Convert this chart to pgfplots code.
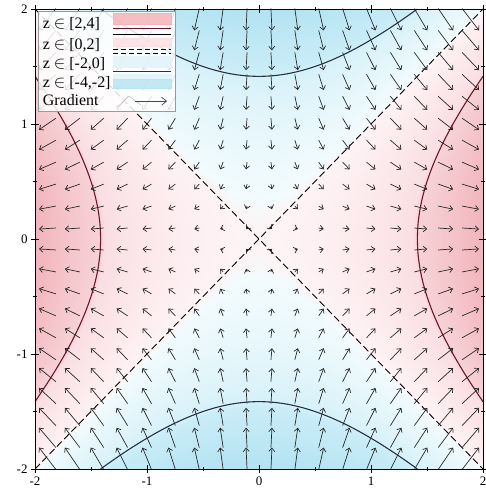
\documentclass[border=0pt]{standalone}
\usepackage{fontspec}
\setmainfont{Liberation Serif}
\usepackage{pgfplots}
\pgfplotsset{compat=1.18}
\usepackage{pgfplotstable}
\usetikzlibrary{arrows.meta}
\definecolor{cA}{RGB}{244,180,186}
\definecolor{cB}{RGB}{251,224,227}
\definecolor{cC}{RGB}{224,244,250}
\definecolor{cD}{RGB}{185,229,243}
\definecolor{ctwo}{RGB}{105,25,40}
\definecolor{cmtwo}{RGB}{35,50,70}
\definecolor{arrowc}{RGB}{40,40,40}

\pgfplotstableread{
x y z
-2 -2 0
-1.75 -2 -0.9375
-1.5 -2 -1.75
-1.25 -2 -2.4375
-1 -2 -3
-0.75 -2 -3.4375
-0.5 -2 -3.75
-0.25 -2 -3.9375
0 -2 -4
0.25 -2 -3.9375
0.5 -2 -3.75
0.75 -2 -3.4375
1 -2 -3
1.25 -2 -2.4375
1.5 -2 -1.75
1.75 -2 -0.9375
2 -2 0
-2 -1.75 0.9375
-1.75 -1.75 0
-1.5 -1.75 -0.8125
-1.25 -1.75 -1.5
-1 -1.75 -2.0625
-0.75 -1.75 -2.5
-0.5 -1.75 -2.8125
-0.25 -1.75 -3
0 -1.75 -3.0625
0.25 -1.75 -3
0.5 -1.75 -2.8125
0.75 -1.75 -2.5
1 -1.75 -2.0625
1.25 -1.75 -1.5
1.5 -1.75 -0.8125
1.75 -1.75 0
2 -1.75 0.9375
-2 -1.5 1.75
-1.75 -1.5 0.8125
-1.5 -1.5 0
-1.25 -1.5 -0.6875
-1 -1.5 -1.25
-0.75 -1.5 -1.6875
-0.5 -1.5 -2
-0.25 -1.5 -2.1875
0 -1.5 -2.25
0.25 -1.5 -2.1875
0.5 -1.5 -2
0.75 -1.5 -1.6875
1 -1.5 -1.25
1.25 -1.5 -0.6875
1.5 -1.5 0
1.75 -1.5 0.8125
2 -1.5 1.75
-2 -1.25 2.4375
-1.75 -1.25 1.5
-1.5 -1.25 0.6875
-1.25 -1.25 0
-1 -1.25 -0.5625
-0.75 -1.25 -1
-0.5 -1.25 -1.3125
-0.25 -1.25 -1.5
0 -1.25 -1.5625
0.25 -1.25 -1.5
0.5 -1.25 -1.3125
0.75 -1.25 -1
1 -1.25 -0.5625
1.25 -1.25 0
1.5 -1.25 0.6875
1.75 -1.25 1.5
2 -1.25 2.4375
-2 -1 3
-1.75 -1 2.0625
-1.5 -1 1.25
-1.25 -1 0.5625
-1 -1 0
-0.75 -1 -0.4375
-0.5 -1 -0.75
-0.25 -1 -0.9375
0 -1 -1
0.25 -1 -0.9375
0.5 -1 -0.75
0.75 -1 -0.4375
1 -1 0
1.25 -1 0.5625
1.5 -1 1.25
1.75 -1 2.0625
2 -1 3
-2 -0.75 3.4375
-1.75 -0.75 2.5
-1.5 -0.75 1.6875
-1.25 -0.75 1
-1 -0.75 0.4375
-0.75 -0.75 0
-0.5 -0.75 -0.3125
-0.25 -0.75 -0.5
0 -0.75 -0.5625
0.25 -0.75 -0.5
0.5 -0.75 -0.3125
0.75 -0.75 0
1 -0.75 0.4375
1.25 -0.75 1
1.5 -0.75 1.6875
1.75 -0.75 2.5
2 -0.75 3.4375
-2 -0.5 3.75
-1.75 -0.5 2.8125
-1.5 -0.5 2
-1.25 -0.5 1.3125
-1 -0.5 0.75
-0.75 -0.5 0.3125
-0.5 -0.5 0
-0.25 -0.5 -0.1875
0 -0.5 -0.25
0.25 -0.5 -0.1875
0.5 -0.5 0
0.75 -0.5 0.3125
1 -0.5 0.75
1.25 -0.5 1.3125
1.5 -0.5 2
1.75 -0.5 2.8125
2 -0.5 3.75
-2 -0.25 3.9375
-1.75 -0.25 3
-1.5 -0.25 2.1875
-1.25 -0.25 1.5
-1 -0.25 0.9375
-0.75 -0.25 0.5
-0.5 -0.25 0.1875
-0.25 -0.25 0
0 -0.25 -0.0625
0.25 -0.25 0
0.5 -0.25 0.1875
0.75 -0.25 0.5
1 -0.25 0.9375
1.25 -0.25 1.5
1.5 -0.25 2.1875
1.75 -0.25 3
2 -0.25 3.9375
-2 0 4
-1.75 0 3.0625
-1.5 0 2.25
-1.25 0 1.5625
-1 0 1
-0.75 0 0.5625
-0.5 0 0.25
-0.25 0 0.0625
0 0 0
0.25 0 0.0625
0.5 0 0.25
0.75 0 0.5625
1 0 1
1.25 0 1.5625
1.5 0 2.25
1.75 0 3.0625
2 0 4
-2 0.25 3.9375
-1.75 0.25 3
-1.5 0.25 2.1875
-1.25 0.25 1.5
-1 0.25 0.9375
-0.75 0.25 0.5
-0.5 0.25 0.1875
-0.25 0.25 0
0 0.25 -0.0625
0.25 0.25 0
0.5 0.25 0.1875
0.75 0.25 0.5
1 0.25 0.9375
1.25 0.25 1.5
1.5 0.25 2.1875
1.75 0.25 3
2 0.25 3.9375
-2 0.5 3.75
-1.75 0.5 2.8125
-1.5 0.5 2
-1.25 0.5 1.3125
-1 0.5 0.75
-0.75 0.5 0.3125
-0.5 0.5 0
-0.25 0.5 -0.1875
0 0.5 -0.25
0.25 0.5 -0.1875
0.5 0.5 0
0.75 0.5 0.3125
1 0.5 0.75
1.25 0.5 1.3125
1.5 0.5 2
1.75 0.5 2.8125
2 0.5 3.75
-2 0.75 3.4375
-1.75 0.75 2.5
-1.5 0.75 1.6875
-1.25 0.75 1
-1 0.75 0.4375
-0.75 0.75 0
-0.5 0.75 -0.3125
-0.25 0.75 -0.5
0 0.75 -0.5625
0.25 0.75 -0.5
0.5 0.75 -0.3125
0.75 0.75 0
1 0.75 0.4375
1.25 0.75 1
1.5 0.75 1.6875
1.75 0.75 2.5
2 0.75 3.4375
-2 1 3
-1.75 1 2.0625
-1.5 1 1.25
-1.25 1 0.5625
-1 1 0
-0.75 1 -0.4375
-0.5 1 -0.75
-0.25 1 -0.9375
0 1 -1
0.25 1 -0.9375
0.5 1 -0.75
0.75 1 -0.4375
1 1 0
1.25 1 0.5625
1.5 1 1.25
1.75 1 2.0625
2 1 3
-2 1.25 2.4375
-1.75 1.25 1.5
-1.5 1.25 0.6875
-1.25 1.25 0
-1 1.25 -0.5625
-0.75 1.25 -1
-0.5 1.25 -1.3125
-0.25 1.25 -1.5
0 1.25 -1.5625
0.25 1.25 -1.5
0.5 1.25 -1.3125
0.75 1.25 -1
1 1.25 -0.5625
1.25 1.25 0
1.5 1.25 0.6875
1.75 1.25 1.5
2 1.25 2.4375
-2 1.5 1.75
-1.75 1.5 0.8125
-1.5 1.5 0
-1.25 1.5 -0.6875
-1 1.5 -1.25
-0.75 1.5 -1.6875
-0.5 1.5 -2
-0.25 1.5 -2.1875
0 1.5 -2.25
0.25 1.5 -2.1875
0.5 1.5 -2
0.75 1.5 -1.6875
1 1.5 -1.25
1.25 1.5 -0.6875
1.5 1.5 0
1.75 1.5 0.8125
2 1.5 1.75
-2 1.75 0.9375
-1.75 1.75 0
-1.5 1.75 -0.8125
-1.25 1.75 -1.5
-1 1.75 -2.0625
-0.75 1.75 -2.5
-0.5 1.75 -2.8125
-0.25 1.75 -3
0 1.75 -3.0625
0.25 1.75 -3
0.5 1.75 -2.8125
0.75 1.75 -2.5
1 1.75 -2.0625
1.25 1.75 -1.5
1.5 1.75 -0.8125
1.75 1.75 0
2 1.75 0.9375
-2 2 0
-1.75 2 -0.9375
-1.5 2 -1.75
-1.25 2 -2.4375
-1 2 -3
-0.75 2 -3.4375
-0.5 2 -3.75
-0.25 2 -3.9375
0 2 -4
0.25 2 -3.9375
0.5 2 -3.75
0.75 2 -3.4375
1 2 -3
1.25 2 -2.4375
1.5 2 -1.75
1.75 2 -0.9375
2 2 0
}\surface

\pgfplotstableread{
x y u v
-1.8133 2.0045 -0.1511 -0.1909
-1.6 2.0045 -0.1333 -0.1909
-1.3867 2.0045 -0.1156 -0.1909
-1.1733 2.0045 -0.0978 -0.1909
-0.96 2.0045 -0.08 -0.1909
-0.7467 2.0045 -0.0622 -0.1909
-0.5333 2.0045 -0.0444 -0.1909
-0.32 2.0045 -0.0267 -0.1909
-0.1067 2.0045 -0.0089 -0.1909
0.1067 2.0045 0.0089 -0.1909
0.32 2.0045 0.0267 -0.1909
0.5333 2.0045 0.0444 -0.1909
0.7467 2.0045 0.0622 -0.1909
0.96 2.0045 0.08 -0.1909
1.1733 2.0045 0.0978 -0.1909
1.3867 2.0045 0.1156 -0.1909
1.6 2.0045 0.1333 -0.1909
1.8133 2.0045 0.1511 -0.1909
-1.8133 1.8136 -0.1511 -0.1727
-1.6 1.8136 -0.1333 -0.1727
-1.3867 1.8136 -0.1156 -0.1727
-1.1733 1.8136 -0.0978 -0.1727
-0.96 1.8136 -0.08 -0.1727
-0.7467 1.8136 -0.0622 -0.1727
-0.5333 1.8136 -0.0444 -0.1727
-0.32 1.8136 -0.0267 -0.1727
-0.1067 1.8136 -0.0089 -0.1727
0.1067 1.8136 0.0089 -0.1727
0.32 1.8136 0.0267 -0.1727
0.5333 1.8136 0.0444 -0.1727
0.7467 1.8136 0.0622 -0.1727
0.96 1.8136 0.08 -0.1727
1.1733 1.8136 0.0978 -0.1727
1.3867 1.8136 0.1156 -0.1727
1.6 1.8136 0.1333 -0.1727
1.8133 1.8136 0.1511 -0.1727
-1.8133 1.6227 -0.1511 -0.1545
-1.6 1.6227 -0.1333 -0.1545
-1.3867 1.6227 -0.1156 -0.1545
-1.1733 1.6227 -0.0978 -0.1545
-0.96 1.6227 -0.08 -0.1545
-0.7467 1.6227 -0.0622 -0.1545
-0.5333 1.6227 -0.0444 -0.1545
-0.32 1.6227 -0.0267 -0.1545
-0.1067 1.6227 -0.0089 -0.1545
0.1067 1.6227 0.0089 -0.1545
0.32 1.6227 0.0267 -0.1545
0.5333 1.6227 0.0444 -0.1545
0.7467 1.6227 0.0622 -0.1545
0.96 1.6227 0.08 -0.1545
1.1733 1.6227 0.0978 -0.1545
1.3867 1.6227 0.1156 -0.1545
1.6 1.6227 0.1333 -0.1545
1.8133 1.6227 0.1511 -0.1545
-1.8133 1.4318 -0.1511 -0.1364
-1.6 1.4318 -0.1333 -0.1364
-1.3867 1.4318 -0.1156 -0.1364
-1.1733 1.4318 -0.0978 -0.1364
-0.96 1.4318 -0.08 -0.1364
-0.7467 1.4318 -0.0622 -0.1364
-0.5333 1.4318 -0.0444 -0.1364
-0.32 1.4318 -0.0267 -0.1364
-0.1067 1.4318 -0.0089 -0.1364
0.1067 1.4318 0.0089 -0.1364
0.32 1.4318 0.0267 -0.1364
0.5333 1.4318 0.0444 -0.1364
0.7467 1.4318 0.0622 -0.1364
0.96 1.4318 0.08 -0.1364
1.1733 1.4318 0.0978 -0.1364
1.3867 1.4318 0.1156 -0.1364
1.6 1.4318 0.1333 -0.1364
1.8133 1.4318 0.1511 -0.1364
-1.8133 1.2409 -0.1511 -0.1182
-1.6 1.2409 -0.1333 -0.1182
-1.3867 1.2409 -0.1156 -0.1182
-1.1733 1.2409 -0.0978 -0.1182
-0.96 1.2409 -0.08 -0.1182
-0.7467 1.2409 -0.0622 -0.1182
-0.5333 1.2409 -0.0444 -0.1182
-0.32 1.2409 -0.0267 -0.1182
-0.1067 1.2409 -0.0089 -0.1182
0.1067 1.2409 0.0089 -0.1182
0.32 1.2409 0.0267 -0.1182
0.5333 1.2409 0.0444 -0.1182
0.7467 1.2409 0.0622 -0.1182
0.96 1.2409 0.08 -0.1182
1.1733 1.2409 0.0978 -0.1182
1.3867 1.2409 0.1156 -0.1182
1.6 1.2409 0.1333 -0.1182
1.8133 1.2409 0.1511 -0.1182
-1.8133 1.05 -0.1511 -0.1
-1.6 1.05 -0.1333 -0.1
-1.3867 1.05 -0.1156 -0.1
-1.1733 1.05 -0.0978 -0.1
-0.96 1.05 -0.08 -0.1
-0.7467 1.05 -0.0622 -0.1
-0.5333 1.05 -0.0444 -0.1
-0.32 1.05 -0.0267 -0.1
-0.1067 1.05 -0.0089 -0.1
0.1067 1.05 0.0089 -0.1
0.32 1.05 0.0267 -0.1
0.5333 1.05 0.0444 -0.1
0.7467 1.05 0.0622 -0.1
0.96 1.05 0.08 -0.1
1.1733 1.05 0.0978 -0.1
1.3867 1.05 0.1156 -0.1
1.6 1.05 0.1333 -0.1
1.8133 1.05 0.1511 -0.1
-1.8133 0.8591 -0.1511 -0.0818
-1.6 0.8591 -0.1333 -0.0818
-1.3867 0.8591 -0.1156 -0.0818
-1.1733 0.8591 -0.0978 -0.0818
-0.96 0.8591 -0.08 -0.0818
-0.7467 0.8591 -0.0622 -0.0818
-0.5333 0.8591 -0.0444 -0.0818
-0.32 0.8591 -0.0267 -0.0818
-0.1067 0.8591 -0.0089 -0.0818
0.1067 0.8591 0.0089 -0.0818
0.32 0.8591 0.0267 -0.0818
0.5333 0.8591 0.0444 -0.0818
0.7467 0.8591 0.0622 -0.0818
0.96 0.8591 0.08 -0.0818
1.1733 0.8591 0.0978 -0.0818
1.3867 0.8591 0.1156 -0.0818
1.6 0.8591 0.1333 -0.0818
1.8133 0.8591 0.1511 -0.0818
-1.8133 0.6682 -0.1511 -0.0636
-1.6 0.6682 -0.1333 -0.0636
-1.3867 0.6682 -0.1156 -0.0636
-1.1733 0.6682 -0.0978 -0.0636
-0.96 0.6682 -0.08 -0.0636
-0.7467 0.6682 -0.0622 -0.0636
-0.5333 0.6682 -0.0444 -0.0636
-0.32 0.6682 -0.0267 -0.0636
-0.1067 0.6682 -0.0089 -0.0636
0.1067 0.6682 0.0089 -0.0636
0.32 0.6682 0.0267 -0.0636
0.5333 0.6682 0.0444 -0.0636
0.7467 0.6682 0.0622 -0.0636
0.96 0.6682 0.08 -0.0636
1.1733 0.6682 0.0978 -0.0636
1.3867 0.6682 0.1156 -0.0636
1.6 0.6682 0.1333 -0.0636
1.8133 0.6682 0.1511 -0.0636
-1.8133 0.4773 -0.1511 -0.0455
-1.6 0.4773 -0.1333 -0.0455
-1.3867 0.4773 -0.1156 -0.0455
-1.1733 0.4773 -0.0978 -0.0455
-0.96 0.4773 -0.08 -0.0455
-0.7467 0.4773 -0.0622 -0.0455
-0.5333 0.4773 -0.0444 -0.0455
-0.32 0.4773 -0.0267 -0.0455
-0.1067 0.4773 -0.0089 -0.0455
0.1067 0.4773 0.0089 -0.0455
0.32 0.4773 0.0267 -0.0455
0.5333 0.4773 0.0444 -0.0455
0.7467 0.4773 0.0622 -0.0455
0.96 0.4773 0.08 -0.0455
1.1733 0.4773 0.0978 -0.0455
1.3867 0.4773 0.1156 -0.0455
1.6 0.4773 0.1333 -0.0455
1.8133 0.4773 0.1511 -0.0455
-1.8133 0.2864 -0.1511 -0.0273
-1.6 0.2864 -0.1333 -0.0273
-1.3867 0.2864 -0.1156 -0.0273
-1.1733 0.2864 -0.0978 -0.0273
-0.96 0.2864 -0.08 -0.0273
-0.7467 0.2864 -0.0622 -0.0273
-0.5333 0.2864 -0.0444 -0.0273
-0.32 0.2864 -0.0267 -0.0273
-0.1067 0.2864 -0.0089 -0.0273
0.1067 0.2864 0.0089 -0.0273
0.32 0.2864 0.0267 -0.0273
0.5333 0.2864 0.0444 -0.0273
0.7467 0.2864 0.0622 -0.0273
0.96 0.2864 0.08 -0.0273
1.1733 0.2864 0.0978 -0.0273
1.3867 0.2864 0.1156 -0.0273
1.6 0.2864 0.1333 -0.0273
1.8133 0.2864 0.1511 -0.0273
-1.8133 0.0955 -0.1511 -0.0091
-1.6 0.0955 -0.1333 -0.0091
-1.3867 0.0955 -0.1156 -0.0091
-1.1733 0.0955 -0.0978 -0.0091
-0.96 0.0955 -0.08 -0.0091
-0.7467 0.0955 -0.0622 -0.0091
-0.5333 0.0955 -0.0444 -0.0091
-0.32 0.0955 -0.0267 -0.0091
-0.1067 0.0955 -0.0089 -0.0091
0.1067 0.0955 0.0089 -0.0091
0.32 0.0955 0.0267 -0.0091
0.5333 0.0955 0.0444 -0.0091
0.7467 0.0955 0.0622 -0.0091
0.96 0.0955 0.08 -0.0091
1.1733 0.0955 0.0978 -0.0091
1.3867 0.0955 0.1156 -0.0091
1.6 0.0955 0.1333 -0.0091
1.8133 0.0955 0.1511 -0.0091
-1.8133 -0.0955 -0.1511 0.0091
-1.6 -0.0955 -0.1333 0.0091
-1.3867 -0.0955 -0.1156 0.0091
-1.1733 -0.0955 -0.0978 0.0091
-0.96 -0.0955 -0.08 0.0091
-0.7467 -0.0955 -0.0622 0.0091
-0.5333 -0.0955 -0.0444 0.0091
-0.32 -0.0955 -0.0267 0.0091
-0.1067 -0.0955 -0.0089 0.0091
0.1067 -0.0955 0.0089 0.0091
0.32 -0.0955 0.0267 0.0091
0.5333 -0.0955 0.0444 0.0091
0.7467 -0.0955 0.0622 0.0091
0.96 -0.0955 0.08 0.0091
1.1733 -0.0955 0.0978 0.0091
1.3867 -0.0955 0.1156 0.0091
1.6 -0.0955 0.1333 0.0091
1.8133 -0.0955 0.1511 0.0091
-1.8133 -0.2864 -0.1511 0.0273
-1.6 -0.2864 -0.1333 0.0273
-1.3867 -0.2864 -0.1156 0.0273
-1.1733 -0.2864 -0.0978 0.0273
-0.96 -0.2864 -0.08 0.0273
-0.7467 -0.2864 -0.0622 0.0273
-0.5333 -0.2864 -0.0444 0.0273
-0.32 -0.2864 -0.0267 0.0273
-0.1067 -0.2864 -0.0089 0.0273
0.1067 -0.2864 0.0089 0.0273
0.32 -0.2864 0.0267 0.0273
0.5333 -0.2864 0.0444 0.0273
0.7467 -0.2864 0.0622 0.0273
0.96 -0.2864 0.08 0.0273
1.1733 -0.2864 0.0978 0.0273
1.3867 -0.2864 0.1156 0.0273
1.6 -0.2864 0.1333 0.0273
1.8133 -0.2864 0.1511 0.0273
-1.8133 -0.4773 -0.1511 0.0455
-1.6 -0.4773 -0.1333 0.0455
-1.3867 -0.4773 -0.1156 0.0455
-1.1733 -0.4773 -0.0978 0.0455
-0.96 -0.4773 -0.08 0.0455
-0.7467 -0.4773 -0.0622 0.0455
-0.5333 -0.4773 -0.0444 0.0455
-0.32 -0.4773 -0.0267 0.0455
-0.1067 -0.4773 -0.0089 0.0455
0.1067 -0.4773 0.0089 0.0455
0.32 -0.4773 0.0267 0.0455
0.5333 -0.4773 0.0444 0.0455
0.7467 -0.4773 0.0622 0.0455
0.96 -0.4773 0.08 0.0455
1.1733 -0.4773 0.0978 0.0455
1.3867 -0.4773 0.1156 0.0455
1.6 -0.4773 0.1333 0.0455
1.8133 -0.4773 0.1511 0.0455
-1.8133 -0.6682 -0.1511 0.0636
-1.6 -0.6682 -0.1333 0.0636
-1.3867 -0.6682 -0.1156 0.0636
-1.1733 -0.6682 -0.0978 0.0636
-0.96 -0.6682 -0.08 0.0636
-0.7467 -0.6682 -0.0622 0.0636
-0.5333 -0.6682 -0.0444 0.0636
-0.32 -0.6682 -0.0267 0.0636
-0.1067 -0.6682 -0.0089 0.0636
0.1067 -0.6682 0.0089 0.0636
0.32 -0.6682 0.0267 0.0636
0.5333 -0.6682 0.0444 0.0636
0.7467 -0.6682 0.0622 0.0636
0.96 -0.6682 0.08 0.0636
1.1733 -0.6682 0.0978 0.0636
1.3867 -0.6682 0.1156 0.0636
1.6 -0.6682 0.1333 0.0636
1.8133 -0.6682 0.1511 0.0636
-1.8133 -0.8591 -0.1511 0.0818
-1.6 -0.8591 -0.1333 0.0818
-1.3867 -0.8591 -0.1156 0.0818
-1.1733 -0.8591 -0.0978 0.0818
-0.96 -0.8591 -0.08 0.0818
-0.7467 -0.8591 -0.0622 0.0818
-0.5333 -0.8591 -0.0444 0.0818
-0.32 -0.8591 -0.0267 0.0818
-0.1067 -0.8591 -0.0089 0.0818
0.1067 -0.8591 0.0089 0.0818
0.32 -0.8591 0.0267 0.0818
0.5333 -0.8591 0.0444 0.0818
0.7467 -0.8591 0.0622 0.0818
0.96 -0.8591 0.08 0.0818
1.1733 -0.8591 0.0978 0.0818
1.3867 -0.8591 0.1156 0.0818
1.6 -0.8591 0.1333 0.0818
1.8133 -0.8591 0.1511 0.0818
-1.8133 -1.05 -0.1511 0.1
-1.6 -1.05 -0.1333 0.1
-1.3867 -1.05 -0.1156 0.1
-1.1733 -1.05 -0.0978 0.1
-0.96 -1.05 -0.08 0.1
-0.7467 -1.05 -0.0622 0.1
-0.5333 -1.05 -0.0444 0.1
-0.32 -1.05 -0.0267 0.1
-0.1067 -1.05 -0.0089 0.1
0.1067 -1.05 0.0089 0.1
0.32 -1.05 0.0267 0.1
0.5333 -1.05 0.0444 0.1
0.7467 -1.05 0.0622 0.1
0.96 -1.05 0.08 0.1
1.1733 -1.05 0.0978 0.1
1.3867 -1.05 0.1156 0.1
1.6 -1.05 0.1333 0.1
1.8133 -1.05 0.1511 0.1
-1.8133 -1.2409 -0.1511 0.1182
-1.6 -1.2409 -0.1333 0.1182
-1.3867 -1.2409 -0.1156 0.1182
-1.1733 -1.2409 -0.0978 0.1182
-0.96 -1.2409 -0.08 0.1182
-0.7467 -1.2409 -0.0622 0.1182
-0.5333 -1.2409 -0.0444 0.1182
-0.32 -1.2409 -0.0267 0.1182
-0.1067 -1.2409 -0.0089 0.1182
0.1067 -1.2409 0.0089 0.1182
0.32 -1.2409 0.0267 0.1182
0.5333 -1.2409 0.0444 0.1182
0.7467 -1.2409 0.0622 0.1182
0.96 -1.2409 0.08 0.1182
1.1733 -1.2409 0.0978 0.1182
1.3867 -1.2409 0.1156 0.1182
1.6 -1.2409 0.1333 0.1182
1.8133 -1.2409 0.1511 0.1182
-1.8133 -1.4318 -0.1511 0.1364
-1.6 -1.4318 -0.1333 0.1364
-1.3867 -1.4318 -0.1156 0.1364
-1.1733 -1.4318 -0.0978 0.1364
-0.96 -1.4318 -0.08 0.1364
-0.7467 -1.4318 -0.0622 0.1364
-0.5333 -1.4318 -0.0444 0.1364
-0.32 -1.4318 -0.0267 0.1364
-0.1067 -1.4318 -0.0089 0.1364
0.1067 -1.4318 0.0089 0.1364
0.32 -1.4318 0.0267 0.1364
0.5333 -1.4318 0.0444 0.1364
0.7467 -1.4318 0.0622 0.1364
0.96 -1.4318 0.08 0.1364
1.1733 -1.4318 0.0978 0.1364
1.3867 -1.4318 0.1156 0.1364
1.6 -1.4318 0.1333 0.1364
1.8133 -1.4318 0.1511 0.1364
-1.8133 -1.6227 -0.1511 0.1545
-1.6 -1.6227 -0.1333 0.1545
-1.3867 -1.6227 -0.1156 0.1545
-1.1733 -1.6227 -0.0978 0.1545
-0.96 -1.6227 -0.08 0.1545
-0.7467 -1.6227 -0.0622 0.1545
-0.5333 -1.6227 -0.0444 0.1545
-0.32 -1.6227 -0.0267 0.1545
-0.1067 -1.6227 -0.0089 0.1545
0.1067 -1.6227 0.0089 0.1545
0.32 -1.6227 0.0267 0.1545
0.5333 -1.6227 0.0444 0.1545
0.7467 -1.6227 0.0622 0.1545
0.96 -1.6227 0.08 0.1545
1.1733 -1.6227 0.0978 0.1545
1.3867 -1.6227 0.1156 0.1545
1.6 -1.6227 0.1333 0.1545
1.8133 -1.6227 0.1511 0.1545
-1.8133 -1.8136 -0.1511 0.1727
-1.6 -1.8136 -0.1333 0.1727
-1.3867 -1.8136 -0.1156 0.1727
-1.1733 -1.8136 -0.0978 0.1727
-0.96 -1.8136 -0.08 0.1727
-0.7467 -1.8136 -0.0622 0.1727
-0.5333 -1.8136 -0.0444 0.1727
-0.32 -1.8136 -0.0267 0.1727
-0.1067 -1.8136 -0.0089 0.1727
0.1067 -1.8136 0.0089 0.1727
0.32 -1.8136 0.0267 0.1727
0.5333 -1.8136 0.0444 0.1727
0.7467 -1.8136 0.0622 0.1727
0.96 -1.8136 0.08 0.1727
1.1733 -1.8136 0.0978 0.1727
1.3867 -1.8136 0.1156 0.1727
1.6 -1.8136 0.1333 0.1727
1.8133 -1.8136 0.1511 0.1727
-1.8133 -2.0045 -0.1511 0.1909
-1.6 -2.0045 -0.1333 0.1909
-1.3867 -2.0045 -0.1156 0.1909
-1.1733 -2.0045 -0.0978 0.1909
-0.96 -2.0045 -0.08 0.1909
-0.7467 -2.0045 -0.0622 0.1909
-0.5333 -2.0045 -0.0444 0.1909
-0.32 -2.0045 -0.0267 0.1909
-0.1067 -2.0045 -0.0089 0.1909
0.1067 -2.0045 0.0089 0.1909
0.32 -2.0045 0.0267 0.1909
0.5333 -2.0045 0.0444 0.1909
0.7467 -2.0045 0.0622 0.1909
0.96 -2.0045 0.08 0.1909
1.1733 -2.0045 0.0978 0.1909
1.3867 -2.0045 0.1156 0.1909
1.6 -2.0045 0.1333 0.1909
1.8133 -2.0045 0.1511 0.1909
}\arrows

\begin{document}
\begin{tikzpicture}
\begin{axis}[
  scale only axis, width=448bp, height=460bp,
  xmin=-2, xmax=2, ymin=-2, ymax=2,
  xtick={-2,-1,0,1,2}, ytick={-2,-1,0,1,2},
  minor tick num=1,
  tick align=center, major tick length=8bp, minor tick length=4bp,
  tick style={black, line width=0.5pt},
  axis line style={black, line width=0.6pt},
  ticklabel style={font=\fontsize{13}{13}\selectfont},
  /pgf/number format/assume math mode=true,
  axis on top,
  colormap={saddle}{
    rgb255(0pt)=(178,226,242);
    rgb255(19pt)=(202,237,248);
    rgb255(20pt)=(214,241,249);
    rgb255(39pt)=(242,251,253);
    rgb255(40pt)=(254,243,245);
    rgb255(59pt)=(250,222,226);
    rgb255(60pt)=(247,210,214);
    rgb255(80pt)=(241,180,187)
  },
  point meta min=-4, point meta max=4,
  legend plot pos=right,
  legend cell align=left,
  legend style={at={(0.006,0.995)}, anchor=north west,
    draw=gray!80, fill=white, fill opacity=0.85, text opacity=1,
    font=\fontsize{16}{17}\selectfont, inner xsep=3pt, inner ysep=2pt,
    row sep=2pt, nodes={inner sep=2pt}},
]
\addplot[surf, shader=interp, mesh/cols=17, point meta=explicit, forget plot]
  table[x=x, y=y, meta=z] {\surface};

% z = 0 contour (dashed)
\addplot[black, line width=0.9pt, dash pattern=on 7pt off 3.5pt, forget plot]
  coordinates {(-2,-2) (2,2)};
\addplot[black, line width=0.9pt, dash pattern=on 7pt off 3.5pt, forget plot]
  coordinates {(-2,2) (2,-2)};

% z = 2 contour
\addplot[ctwo, line width=1.1pt, smooth, forget plot] coordinates {
 (2,-1.4142) (1.9725,-1.375) (1.8875,-1.25) (1.8071,-1.125) (1.7321,-1)
 (1.6630,-0.875) (1.6008,-0.75) (1.5462,-0.625) (1.5,-0.5) (1.4631,-0.375)
 (1.4361,-0.25) (1.4197,-0.125) (1.4142,0) (1.4197,0.125) (1.4361,0.25)
 (1.4631,0.375) (1.5,0.5) (1.5462,0.625) (1.6008,0.75) (1.6630,0.875)
 (1.7321,1) (1.8071,1.125) (1.8875,1.25) (1.9725,1.375) (2,1.4142)};
\addplot[ctwo, line width=1.1pt, smooth, forget plot] coordinates {
 (-2,-1.4142) (-1.9725,-1.375) (-1.8875,-1.25) (-1.8071,-1.125) (-1.7321,-1)
 (-1.6630,-0.875) (-1.6008,-0.75) (-1.5462,-0.625) (-1.5,-0.5) (-1.4631,-0.375)
 (-1.4361,-0.25) (-1.4197,-0.125) (-1.4142,0) (-1.4197,0.125) (-1.4361,0.25)
 (-1.4631,0.375) (-1.5,0.5) (-1.5462,0.625) (-1.6008,0.75) (-1.6630,0.875)
 (-1.7321,1) (-1.8071,1.125) (-1.8875,1.25) (-1.9725,1.375) (-2,1.4142)};

% z = -2 contour
\addplot[cmtwo, line width=1.1pt, smooth, forget plot] coordinates {
 (-1.4142,2) (-1.375,1.9725) (-1.25,1.8875) (-1.125,1.8071) (-1,1.7321)
 (-0.875,1.6630) (-0.75,1.6008) (-0.625,1.5462) (-0.5,1.5) (-0.375,1.4631)
 (-0.25,1.4361) (-0.125,1.4197) (0,1.4142) (0.125,1.4197) (0.25,1.4361)
 (0.375,1.4631) (0.5,1.5) (0.625,1.5462) (0.75,1.6008) (0.875,1.6630)
 (1,1.7321) (1.125,1.8071) (1.25,1.8875) (1.375,1.9725) (1.4142,2)};
\addplot[cmtwo, line width=1.1pt, smooth, forget plot] coordinates {
 (-1.4142,-2) (-1.375,-1.9725) (-1.25,-1.8875) (-1.125,-1.8071) (-1,-1.7321)
 (-0.875,-1.6630) (-0.75,-1.6008) (-0.625,-1.5462) (-0.5,-1.5) (-0.375,-1.4631)
 (-0.25,-1.4361) (-0.125,-1.4197) (0,-1.4142) (0.125,-1.4197) (0.25,-1.4361)
 (0.375,-1.4631) (0.5,-1.5) (0.625,-1.5462) (0.75,-1.6008) (0.875,-1.6630)
 (1,-1.7321) (1.125,-1.8071) (1.25,-1.8875) (1.375,-1.9725) (1.4142,-2)};

% gradient field
\addplot[arrowc, line width=0.7pt,
  quiver={u=\thisrow{u}, v=\thisrow{v}},
  -{Straight Barb[length=3.5pt,width=6pt]}, forget plot]
  table[x=x, y=y] {\arrows};

% legend
\addlegendimage{legend image code/.code={
  \fill[cA] (0bp,-1bp) rectangle (58bp,10bp);
  \draw[ctwo, line width=1.2pt] (0bp,-5bp) -- (58bp,-5bp);}}
\addlegendentry{z $\in$ [2,4]}
\addlegendimage{legend image code/.code={
  \draw[black, line width=1pt] (0bp,10bp) -- (58bp,10bp);
  \fill[cB] (0bp,-2bp) rectangle (58bp,6bp);
  \draw[black, line width=0.8pt, dash pattern=on 5pt off 3pt] (0bp,-5bp) -- (58bp,-5bp);
  \draw[black, line width=0.8pt, dash pattern=on 5pt off 3pt] (0bp,-9bp) -- (58bp,-9bp);}}
\addlegendentry{z $\in$ [0,2]}
\addlegendimage{legend image code/.code={
  \fill[cC] (0bp,-3bp) rectangle (58bp,8bp);
  \draw[cmtwo, line width=1.2pt] (0bp,-7bp) -- (58bp,-7bp);}}
\addlegendentry{z $\in$ [-2,0]}
\addlegendimage{legend image code/.code={
  \fill[cC] (0bp,3bp) rectangle (58bp,8bp);
  \fill[cD] (0bp,-6bp) rectangle (58bp,3bp);}}
\addlegendentry{z $\in$ [-4,-2]}
\addlegendimage{legend image code/.code={
  \draw[gray!60, line width=0.4pt] (4bp,-6bp) -- (16bp,5bp) -- (28bp,-4bp);
  \draw[arrowc!85, line width=0.7pt, -{Straight Barb[length=5pt,width=8pt]}] (22bp,0bp) -- (54bp,0bp);}}
\addlegendentry{Gradient}

\coordinate (ll) at (rel axis cs:0,0);
\coordinate (ur) at (rel axis cs:1,1);
\end{axis}
\pgfresetboundingbox
\path[use as bounding box] ([xshift=-35bp,yshift=-19bp]ll) rectangle ([xshift=3bp,yshift=9bp]ur);
\end{tikzpicture}
\end{document}
